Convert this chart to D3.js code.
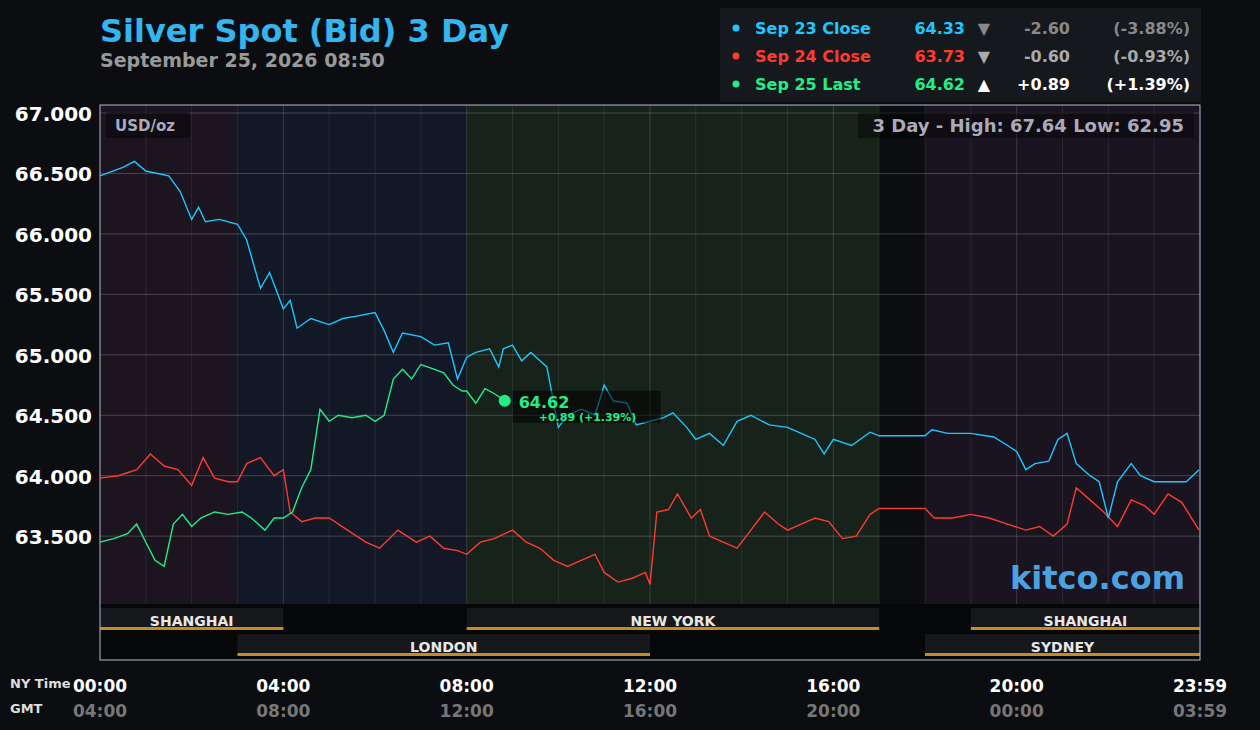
<!DOCTYPE html>
<html><head><meta charset="utf-8">
<script src="https://cdn.jsdelivr.net/npm/d3@7"></script>
<style>body{margin:0;background:#0b0d10;}text{font-family:"DejaVu Sans",sans-serif;font-weight:bold;}</style>
</head><body><div id="container"></div>
<script>
/* DATA (hours since 00:00 NY, price) */
const sep23 = [[0,66.48],[0.5,66.55],[0.75,66.6],[1,66.52],[1.5,66.48],[1.75,66.35],[2,66.12],[2.15,66.22],[2.3,66.1],[2.6,66.12],[3,66.08],[3.2,65.95],[3.5,65.55],[3.7,65.68],[4,65.38],[4.15,65.45],[4.3,65.22],[4.6,65.3],[5,65.25],[5.3,65.3],[5.6,65.32],[6,65.35],[6.2,65.2],[6.4,65.02],[6.6,65.18],[7,65.15],[7.3,65.08],[7.6,65.1],[7.8,64.8],[8,64.98],[8.2,65.02],[8.5,65.05],[8.7,64.9],[8.8,65.05],[9,65.08],[9.2,64.95],[9.4,65.02],[9.6,64.95],[9.75,64.9],[10,64.4],[10.2,64.5],[10.5,64.55],[10.8,64.5],[11,64.75],[11.2,64.62],[11.5,64.6],[11.7,64.42],[12,64.45],[12.3,64.48],[12.5,64.52],[12.8,64.4],[13,64.3],[13.3,64.35],[13.6,64.25],[13.9,64.45],[14.2,64.5],[14.6,64.42],[15,64.4],[15.3,64.35],[15.6,64.3],[15.8,64.18],[16,64.3],[16.4,64.25],[16.8,64.36],[17,64.33],[18,64.33],[18.15,64.38],[18.5,64.35],[19,64.35],[19.5,64.32],[19.8,64.25],[20,64.2],[20.2,64.05],[20.4,64.1],[20.7,64.12],[20.9,64.3],[21.1,64.35],[21.3,64.1],[21.6,64.0],[21.8,63.95],[22,63.65],[22.2,63.95],[22.5,64.1],[22.7,64.0],[23,63.95],[23.4,63.95],[23.7,63.95],[23.98,64.05]];
const sep24 = [[0,63.98],[0.4,64.0],[0.8,64.05],[1.1,64.18],[1.4,64.08],[1.7,64.05],[2,63.92],[2.25,64.15],[2.5,63.98],[2.8,63.95],[3,63.95],[3.2,64.1],[3.5,64.15],[3.8,64.0],[4,64.05],[4.15,63.7],[4.4,63.62],[4.7,63.65],[5,63.65],[5.4,63.55],[5.8,63.45],[6.1,63.4],[6.5,63.55],[6.9,63.45],[7.2,63.5],[7.5,63.4],[7.8,63.38],[8,63.35],[8.3,63.45],[8.6,63.48],[9,63.55],[9.3,63.45],[9.6,63.4],[9.9,63.3],[10.2,63.25],[10.5,63.3],[10.8,63.35],[11,63.2],[11.3,63.12],[11.6,63.15],[11.9,63.2],[12,63.1],[12.15,63.7],[12.4,63.72],[12.6,63.85],[12.9,63.65],[13.1,63.72],[13.3,63.5],[13.6,63.45],[13.9,63.4],[14.2,63.55],[14.5,63.7],[14.8,63.6],[15,63.55],[15.3,63.6],[15.6,63.65],[15.9,63.62],[16.2,63.48],[16.5,63.5],[16.8,63.68],[17,63.73],[18,63.73],[18.2,63.65],[18.6,63.65],[19,63.68],[19.4,63.65],[19.8,63.6],[20.2,63.55],[20.5,63.58],[20.8,63.5],[21.1,63.6],[21.3,63.9],[21.6,63.8],[21.9,63.7],[22.2,63.58],[22.5,63.8],[22.8,63.75],[23,63.68],[23.3,63.85],[23.6,63.78],[23.98,63.55]];
const sep25 = [[0,63.45],[0.3,63.48],[0.6,63.52],[0.8,63.6],[1,63.45],[1.2,63.3],[1.4,63.25],[1.6,63.6],[1.8,63.68],[2,63.58],[2.2,63.65],[2.5,63.7],[2.8,63.68],[3.1,63.7],[3.3,63.65],[3.6,63.55],[3.8,63.65],[4,63.65],[4.2,63.7],[4.4,63.9],[4.6,64.05],[4.8,64.55],[5,64.45],[5.2,64.5],[5.5,64.48],[5.8,64.5],[6,64.45],[6.2,64.5],[6.4,64.8],[6.6,64.88],[6.8,64.8],[7,64.92],[7.3,64.88],[7.5,64.85],[7.7,64.75],[7.9,64.7],[8,64.7],[8.2,64.6],[8.4,64.72],[8.6,64.68],[8.83,64.62]];
const yTicks = [63.5,64,64.5,65,65.5,66,66.5,67];
const xTicks = [[0,"00:00","04:00"],[4,"04:00","08:00"],[8,"08:00","12:00"],[12,"12:00","16:00"],[16,"16:00","20:00"],[20,"20:00","00:00"],[24,"23:59","03:59"]];
const zones = [[0,3,"#1c1520"],[3,8,"#121826"],[8,17,"#17221a"],[17,18,"#0b0d10"],[18,24,"#1a1420"]];
const sessions = [["SHANGHAI",0,4,0],["NEW YORK",8,17,0],["SHANGHAI",19,24,0],["LONDON",3,12,1],["SYDNEY",18,24,1]];
const legend = [["Sep 23 Close","64.33","▼","-2.60","(-3.88%)","#1ec8ff","#888"],["Sep 24 Close","63.73","▼","-0.60","(-0.93%)","#ff3b2f","#aaa"],["Sep 25 Last","64.62","▲","+0.89","(+1.39%)","#22ee88","#fff"]];

const width = 1260, height = 730, L = 100, R = 1200, T = 105, B = 604;
const svg = d3.select("#container").append("svg").attr("width", width).attr("height", height);
svg.append("rect").attr("width", width).attr("height", height).attr("fill", "#0b0d10");

const x = d3.scaleLinear().domain([0, 24]).range([L, R]);
const y = d3.scaleLinear().domain([63, 67]).range([596.6, 113]);

zones.forEach(z => svg.append("rect").attr("x", x(z[0])).attr("y", T).attr("width", x(z[1]) - x(z[0])).attr("height", B - T).attr("fill", z[2]));

// grid
d3.range(1, 24).forEach(h => svg.append("line").attr("x1", x(h)).attr("x2", x(h)).attr("y1", T).attr("y2", B).attr("stroke", "#ffffff").attr("stroke-opacity", h % 4 ? 0.08 : 0.15));
yTicks.forEach(v => {
  svg.append("line").attr("x1", L).attr("x2", R).attr("y1", y(v)).attr("y2", y(v)).attr("stroke", "#ffffff").attr("stroke-opacity", 0.2);
  svg.append("text").attr("x", 92).attr("y", y(v) + 8).attr("text-anchor", "end").attr("fill", "#fff").attr("font-size", 20).text(v.toFixed(3));
});

// sessions
svg.append("rect").attr("x", L).attr("y", B).attr("width", R - L).attr("height", 56).attr("fill", "#060708");
sessions.forEach(s => {
  const yy = 608 + s[3] * 26;
  svg.append("rect").attr("x", x(s[1])).attr("y", yy).attr("width", x(s[2]) - x(s[1])).attr("height", 22).attr("fill", "#16181c");
  svg.append("rect").attr("x", x(s[1])).attr("y", yy + 19).attr("width", x(s[2]) - x(s[1])).attr("height", 3).attr("fill", "#c88a25");
  svg.append("text").attr("x", (x(s[1]) + x(s[2])) / 2).attr("y", yy + 18).attr("text-anchor", "middle").attr("fill", "#e8e8e8").attr("font-size", 14).text(s[0]);
});

svg.append("rect").attr("x", L).attr("y", T).attr("width", R - L).attr("height", 660 - T).attr("fill", "none").attr("stroke", "#b8b8d0").attr("stroke-width", 1);

// lines
const line = d3.line().x(d => x(d[0])).y(d => y(d[1]));
[[sep24, "#ff3b2f"], [sep23, "#1ec8ff"], [sep25, "#22ee88"]].forEach(([d, c]) =>
  svg.append("path").datum(d).attr("d", line).attr("fill", "none").attr("stroke", c).attr("stroke-width", 1.4));

// current marker
const last = sep25[sep25.length - 1];
svg.append("rect").attr("x", x(last[0]) + 8).attr("y", y(last[1]) - 10).attr("width", 148).attr("height", 32).attr("fill", "#000").attr("opacity", 0.55);
svg.append("circle").attr("cx", x(last[0])).attr("cy", y(last[1])).attr("r", 6).attr("fill", "#22ee88");
svg.append("text").attr("x", x(last[0]) + 14).attr("y", y(last[1]) + 7).attr("fill", "#22ee88").attr("font-size", 16).text("64.62");
svg.append("text").attr("x", x(last[0]) + 34).attr("y", y(last[1]) + 20).attr("fill", "#22ee88").attr("font-size", 11).text("+0.89 (+1.39%)");

// labels inside plot
svg.append("rect").attr("x", 106).attr("y", 112).attr("width", 84).attr("height", 26).attr("fill", "#000").attr("opacity", 0.4);
svg.append("text").attr("x", 115).attr("y", 131).attr("fill", "#aab").attr("font-size", 15).text("USD/oz");
svg.append("rect").attr("x", 858).attr("y", 112).attr("width", 336).attr("height", 26).attr("fill", "#000").attr("opacity", 0.4);
svg.append("text").attr("x", 1184).attr("y", 132).attr("text-anchor", "end").attr("fill", "#aab").attr("font-size", 18).text("3 Day - High: 67.64  Low: 62.95");
svg.append("text").attr("x", 1185).attr("y", 589).attr("text-anchor", "end").attr("fill", "#4aa3e0").attr("font-size", 32).text("kitco.com");

// x axis
svg.append("text").attr("x", 10).attr("y", 688).attr("fill", "#ddd").attr("font-size", 13).attr("font-weight", "normal").text("NY Time");
svg.append("text").attr("x", 10).attr("y", 713).attr("fill", "#ddd").attr("font-size", 13).attr("font-weight", "normal").text("GMT");
xTicks.forEach(t => {
  svg.append("text").attr("x", x(t[0])).attr("y", 692).attr("text-anchor", "middle").attr("fill", "#fff").attr("font-size", 17).text(t[1]);
  svg.append("text").attr("x", x(t[0])).attr("y", 717).attr("text-anchor", "middle").attr("fill", "#777").attr("font-size", 17).text(t[2]);
});

// header
svg.append("text").attr("x", 100).attr("y", 42).attr("fill", "#35b5f0").attr("font-size", 32).text("Silver Spot (Bid) 3 Day");
svg.append("text").attr("x", 100).attr("y", 67).attr("fill", "#999").attr("font-size", 19).text("September 25, 2026 08:50");

// legend
svg.append("rect").attr("x", 720).attr("y", 8).attr("width", 481).attr("height", 94).attr("fill", "#15181c");
legend.forEach((l, i) => {
  const yy = 34 + i * 28;
  svg.append("circle").attr("cx", 736).attr("cy", yy - 6).attr("r", 3.5).attr("fill", l[5]);
  svg.append("text").attr("x", 755).attr("y", yy).attr("fill", l[5]).attr("font-size", 16).text(l[0]);
  svg.append("text").attr("x", 965).attr("y", yy).attr("text-anchor", "end").attr("fill", l[5]).attr("font-size", 16).text(l[1]);
  svg.append("text").attr("x", 984).attr("y", yy).attr("text-anchor", "middle").attr("fill", l[6]).attr("font-size", 16).text(l[2]);
  svg.append("text").attr("x", 1070).attr("y", yy).attr("text-anchor", "end").attr("fill", l[6]).attr("font-size", 16).text(l[3]);
  svg.append("text").attr("x", 1190).attr("y", yy).attr("text-anchor", "end").attr("fill", l[6]).attr("font-size", 16).text(l[4]);
});
</script></body></html>
